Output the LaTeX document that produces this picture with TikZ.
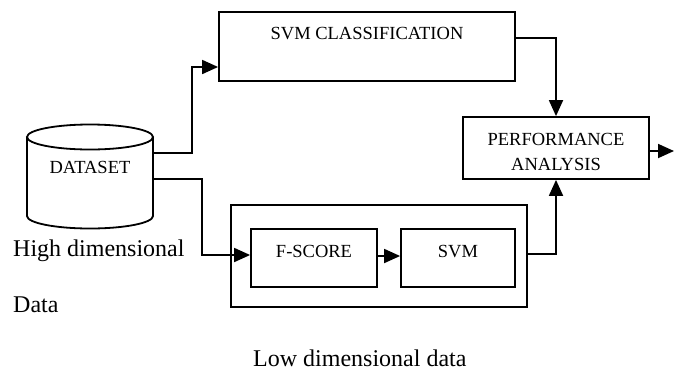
\documentclass[tikz,border=0pt]{standalone}
\usepackage{fontspec}
\setmainfont{Liberation Serif}
\usetikzlibrary{arrows.meta}

\tikzset{
  box/.style={draw, line width=1.8pt, rectangle, inner sep=0pt},
  boxtext/.style={font=\fontsize{18.5}{22}\selectfont, anchor=base, inner sep=0pt},
  bigtext/.style={font=\fontsize{24}{28}\selectfont, anchor=base west, inner sep=0pt},
  flow/.style={line width=1.8pt, -{Triangle[length=16pt,width=14pt]}},
  plain/.style={line width=1.8pt}
}

\begin{document}
\begin{tikzpicture}[x=1pt,y=-1pt]
\useasboundingbox[fill=white] (0,0) rectangle (676,370);

% dataset cylinder
\draw[plain] (90,137) ellipse [x radius=63pt, y radius=12.5pt];
\draw[plain] (153,137) -- (153,216)
  arc [start angle=0, end angle=-180, x radius=63pt, y radius=12.5pt] -- (27,137);
\node[boxtext] (dstext) at (90,173) {DATASET};
\coordinate (dsup) at (153,153);
\coordinate (dslow) at (153,179);

\node[bigtext] (high) at (13,256) {High dimensional};
\node[bigtext] (data) at (13,312) {Data};

% top branch
\node[box, minimum width=296pt, minimum height=69pt] (svmc) at (367,46.5) {};
\node[boxtext] (svmctext) at (367,39) {SVM CLASSIFICATION};

% performance block
\node[box, minimum width=186pt, minimum height=62pt] (perf) at (556,148) {};
\node[boxtext] (perf1) at (556,145) {PERFORMANCE};
\node[boxtext] (perf2) at (556,170) {ANALYSIS};
\coordinate (out) at (674,151);

% low dimensional branch
\node[box, minimum width=296pt, minimum height=102pt] (outer) at (379,256) {};
\node[box, minimum width=126pt, minimum height=58pt] (fscore) at (314,258) {};
\node[boxtext] (fstext) at (314,257) {F-SCORE};
\node[box, minimum width=114pt, minimum height=58pt] (svm) at (458,258) {};
\node[boxtext] (svmtext) at (458,257) {SVM};
\node[bigtext] (low) at (253,366) {Low dimensional data};

% connectors
\draw[flow] (dsup) -| (192,67) -- (svmc.west |- 0,67);
\draw[flow] (dslow) -| (202,255) -- (fscore.west |- 0,255);
\draw[flow] ([yshift=2pt]fscore.east) -- ([yshift=2pt]svm.west);
\draw[flow] ([yshift=2pt]outer.east) -| (perf.south);
\draw[flow] (svmc.east |- 0,38) -| (perf.north);
\draw[flow] ([yshift=-3pt]perf.east) -- (out);
\end{tikzpicture}
\end{document}
